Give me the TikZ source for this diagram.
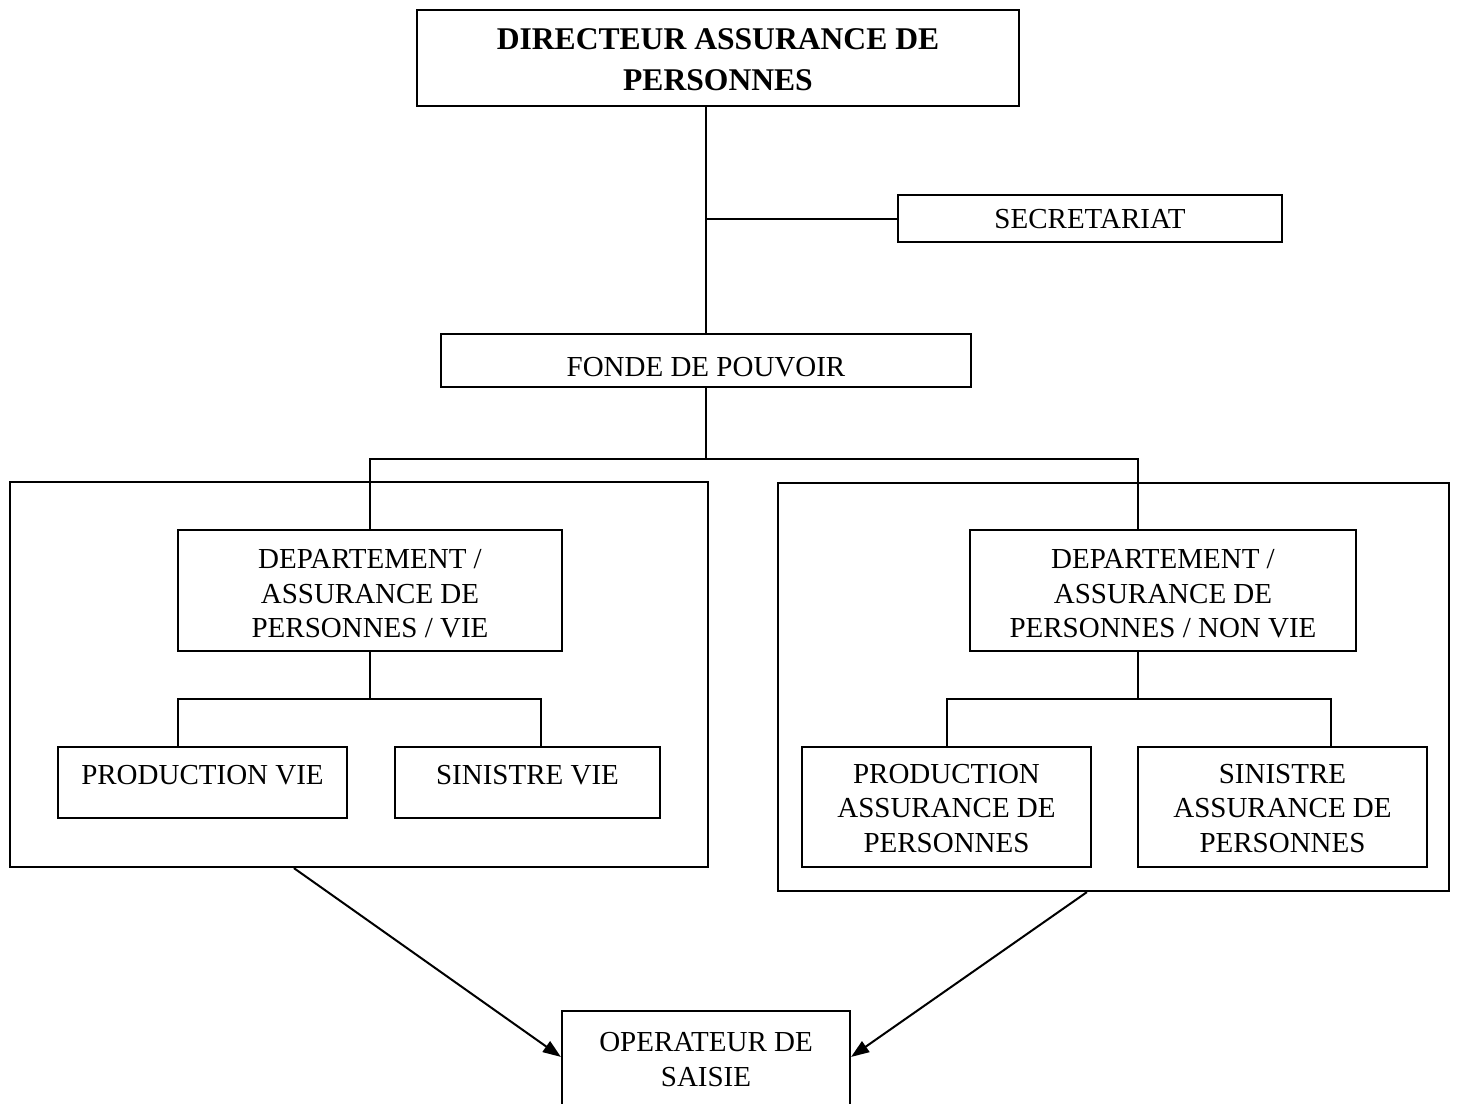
\documentclass[tikz,border=0pt]{standalone}
\usepackage{fontspec}
\setmainfont{Liberation Serif}
\usetikzlibrary{calc,arrows.meta}
\tikzset{
  box/.style={draw, line width=1.1pt, inner sep=0pt, rectangle},
  txt/.style={inner sep=0pt, align=center, font=\fontsize{14.5}{17.25}\selectfont},
  title/.style={inner sep=0pt, align=center, font=\fontsize{15.8}{20.5}\selectfont\bfseries},
  link/.style={line width=1pt},
  arr/.style={line width=1pt, -{Triangle[length=9pt,width=6.5pt]}}
}
\begin{document}
\begin{tikzpicture}[x=0.5pt,y=-0.5pt]
\fill[white] (0,0) rectangle (1458,1104);
\clip (0,0) rectangle (1458,1104);
% boxes (centres in px, sizes in pt)
\node[box, minimum width=301pt, minimum height=48pt] (dir) at (718,58) {};
\node[box, minimum width=192pt, minimum height=23.5pt] (sec) at (1090,218.5) {};
\node[box, minimum width=265pt, minimum height=26.5pt] (fonde) at (706,360.5) {};
\node[box, minimum width=349pt, minimum height=192.5pt] (lc) at (359,674.5) {};
\node[box, minimum width=335.5pt, minimum height=204pt] (rc) at (1113.5,687) {};
\node[box, minimum width=192pt, minimum height=60.5pt] (dl) at (370,590.5) {};
\node[box, minimum width=193pt, minimum height=60.5pt] (dr) at (1163,590.5) {};
\node[box, minimum width=144.5pt, minimum height=35.5pt] (pv) at (202.5,782.5) {};
\node[box, minimum width=132.5pt, minimum height=35.5pt] (sv) at (527.5,782.5) {};
\node[box, minimum width=144.5pt, minimum height=60pt] (pa) at (946.5,807) {};
\node[box, minimum width=144.5pt, minimum height=60pt] (sa) at (1282.5,807) {};
\node[box, minimum width=144pt, minimum height=59.5pt] (op) at (706,1070.5) {};
% texts
\node[title] (tdir) at ($(dir.center)+(0,1.5)$) {DIRECTEUR ASSURANCE DE\\PERSONNES};
\node[txt] (tsec) at ($(sec.center)+(0,0.5)$) {SECRETARIAT};
\node[txt] (tfonde) at ($(fonde.center)+(0,6.5)$) {FONDE DE POUVOIR};
\node[txt] (tdl) at ($(dl.center)+(0,3.5)$) {DEPARTEMENT /\\ASSURANCE DE\\PERSONNES / VIE};
\node[txt] (tdr) at ($(dr.center)+(0,3.5)$) {DEPARTEMENT /\\ASSURANCE DE\\PERSONNES / NON VIE};
\node[txt] (tpv) at ($(pv.center)+(0,-7.5)$) {PRODUCTION VIE};
\node[txt] (tsv) at ($(sv.center)+(0,-7.5)$) {SINISTRE VIE};
\node[txt] (tpa) at ($(pa.center)+(0,1.5)$) {PRODUCTION\\ASSURANCE DE\\PERSONNES};
\node[txt] (tsa) at ($(sa.center)+(0,1.5)$) {SINISTRE\\ASSURANCE DE\\PERSONNES};
\node[txt] (top) at ($(op.center)+(0,-11)$) {OPERATEUR DE\\SAISIE};
% connectors
\draw[link] (fonde.north |- dir.south) -- (fonde.north);
\draw[link] (fonde.north |- sec.west) -- (sec.west);
\draw[link] (fonde.south) -- ++(0,71) coordinate (j1);
\draw[link] (dl.north) |- (j1) -| ([xshift=-12.5pt]dr.north);
\draw[link] (dl.south) -- ++(0,47) coordinate (j2);
\draw[link] ([xshift=-12.25pt]pv.north) |- (j2) -| ([xshift=6.75pt]sv.north);
\draw[link] ([xshift=-12.5pt]dr.south) -- ++(0,47) coordinate (j3);
\draw[link] (pa.north) |- (j3) -| ([xshift=24.25pt]sa.north);
% arrows
\draw[arr] ($(lc.south west)+(285,0)$) -- ($(op.north west)+(0,47)$);
\draw[arr] ($(rc.south west)+(310,0)$) -- ($(op.north east)+(0,47)$);
\end{tikzpicture}
\end{document}
